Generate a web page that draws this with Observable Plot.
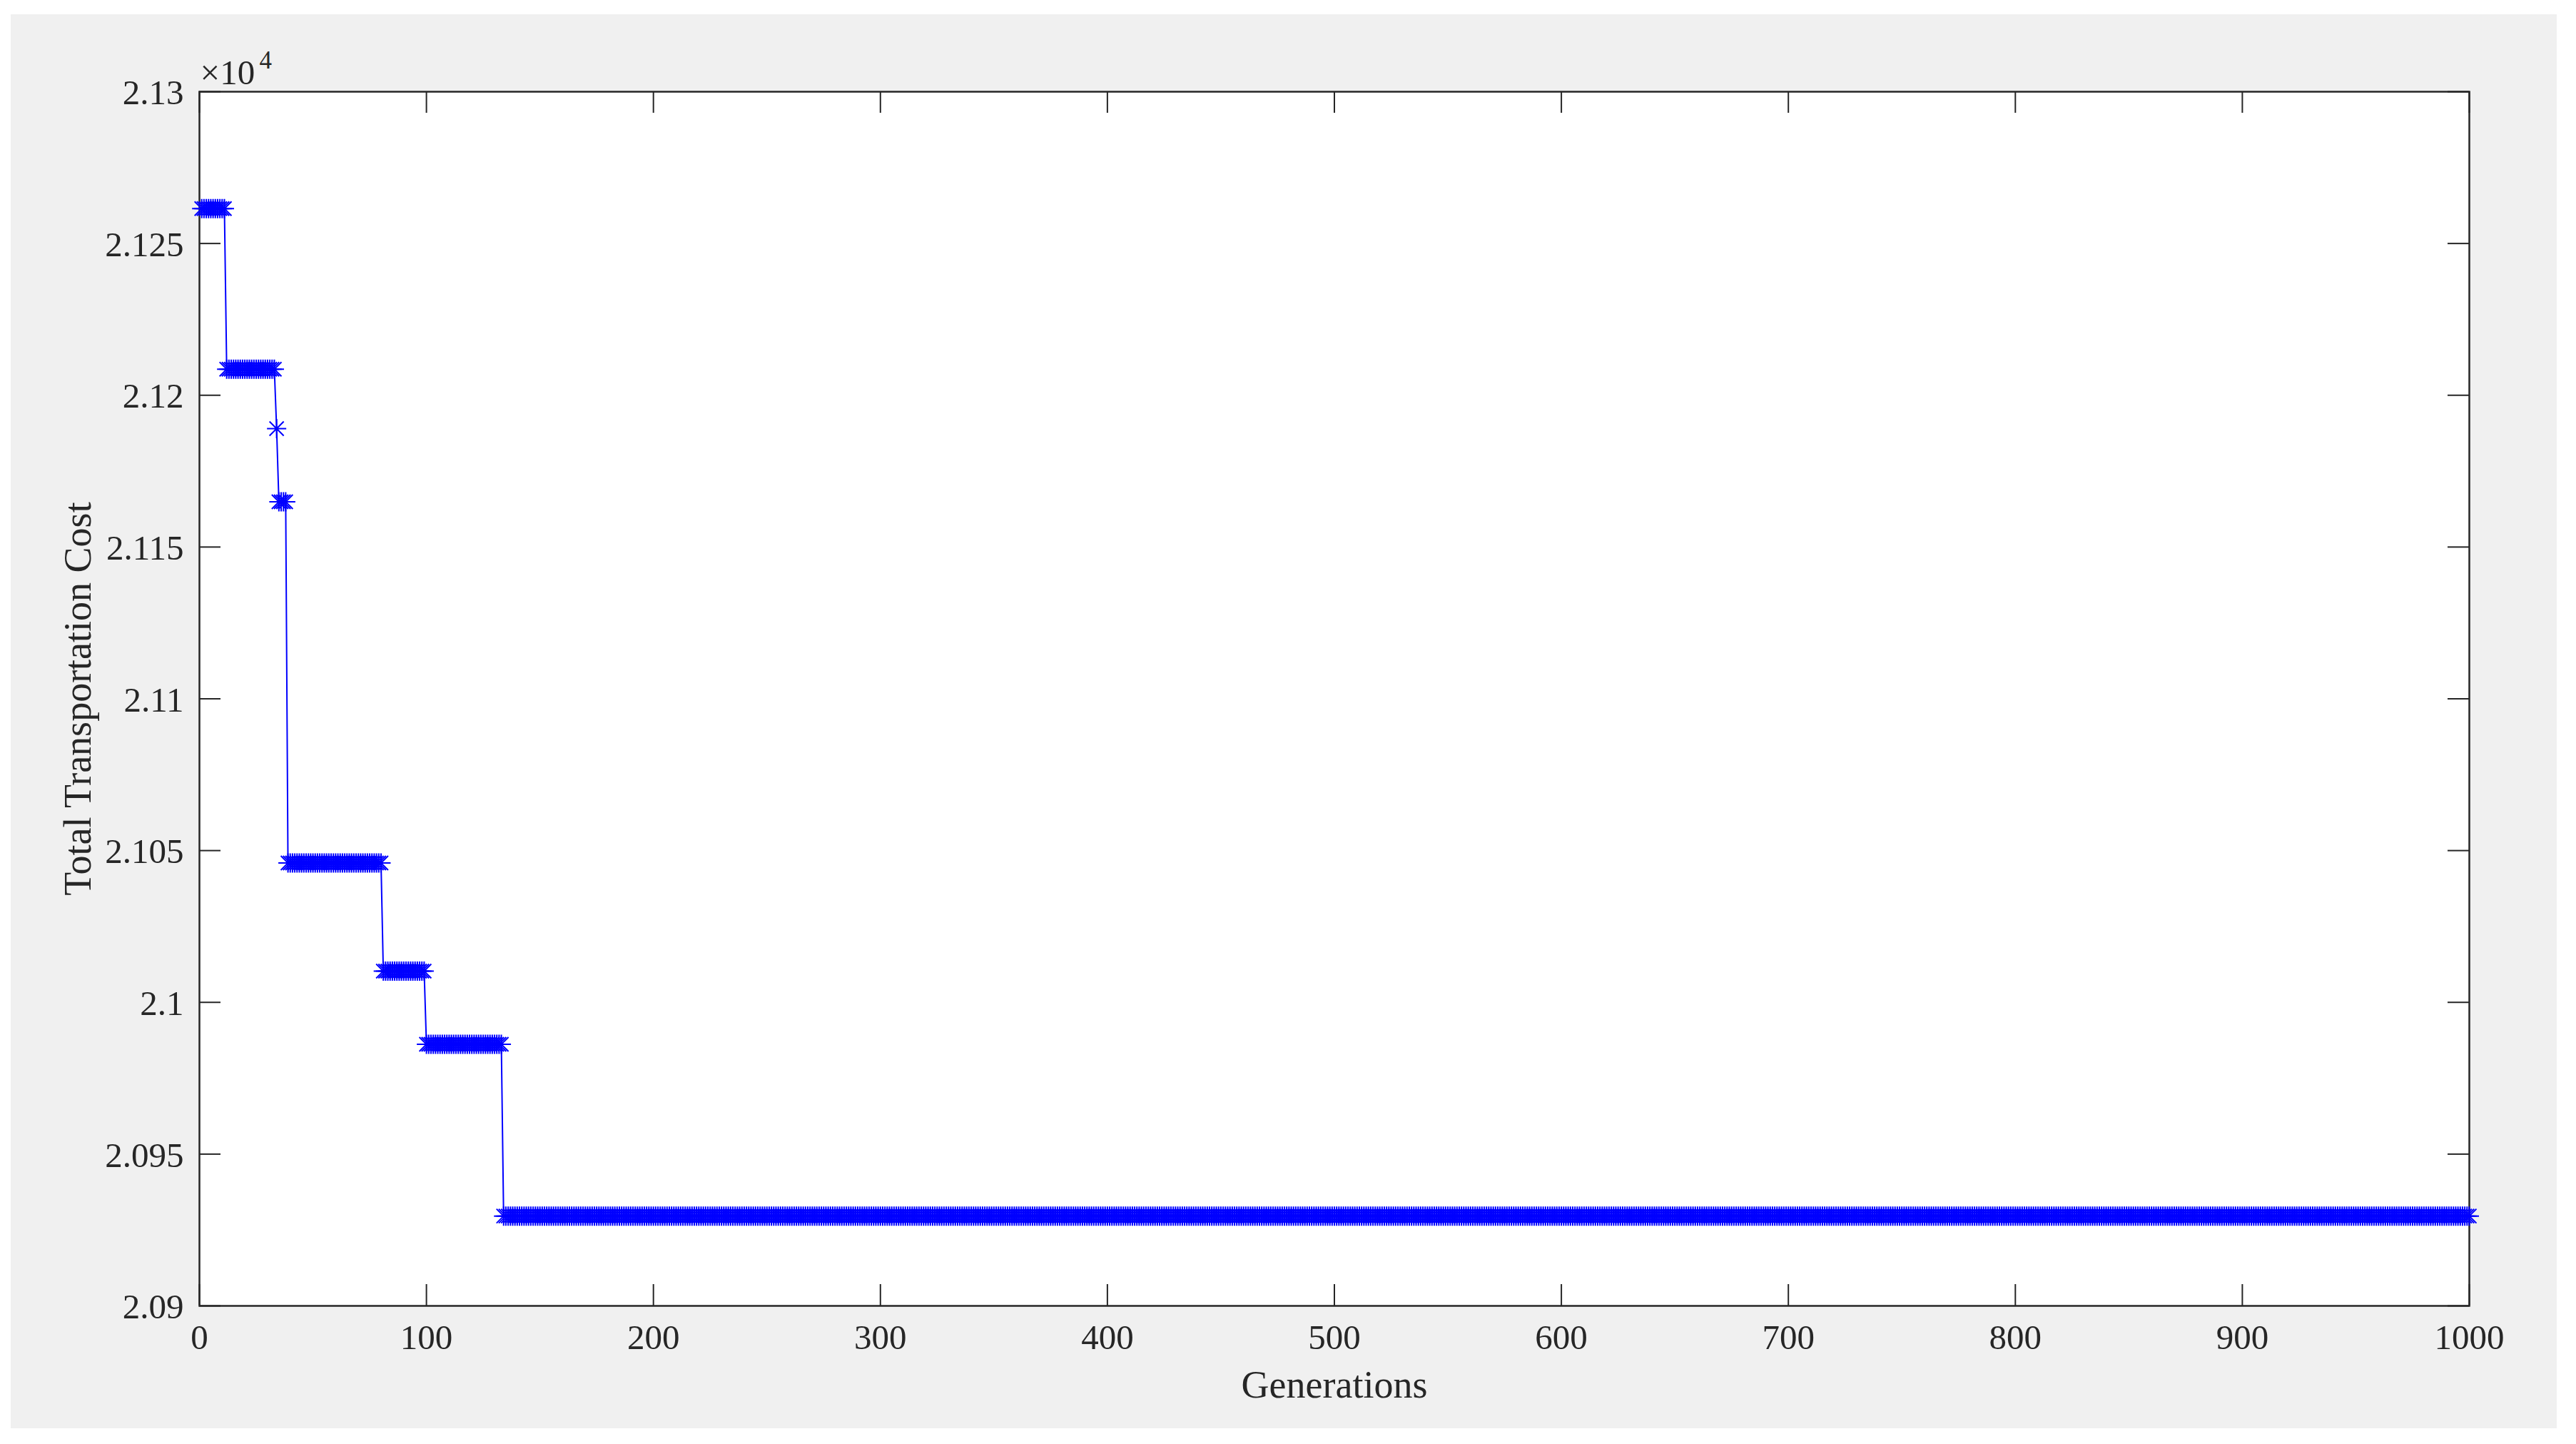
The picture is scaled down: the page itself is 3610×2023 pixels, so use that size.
<!DOCTYPE html>
<html>
<head>
<meta charset="utf-8">
<script src="https://cdn.jsdelivr.net/npm/d3@7"></script>
<script src="https://cdn.jsdelivr.net/npm/@observablehq/plot@0.6"></script>
<style>
  html, body { margin: 0; padding: 0; background: #ffffff; }
  #fig { position: absolute; left: 15px; top: 20px; width: 3568px; height: 1981px; background: #f0f0f0; }
</style>
</head>
<body>
<div id="fig"></div>
<script>
// ---- data (cost plateaus of the GA convergence curve) ----
const stepStartGen = [1, 12, 34, 35, 39, 81, 100, 134];
const stepCost     = [21261.5, 21208.6, 21189.0, 21164.9, 21045.9, 21010.3, 20986.2, 20929.6];
const lastGen = 1000;

const xTicks = [0, 100, 200, 300, 400, 500, 600, 700, 800, 900, 1000];
const yTicks = [20900, 20950, 21000, 21050, 21100, 21150, 21200, 21250, 21300];
const xLabel = "Generations";
const yLabel = "Total Transportation Cost";
const yMultiplier = "×10";
const yExponent = "4";

// one row per generation (each plateau holds the same best cost)
const rows = [];
stepStartGen.forEach((g0, i) => {
  const g1 = i + 1 < stepStartGen.length ? stepStartGen[i + 1] - 1 : lastGen;
  for (let g = g0; g <= g1; g++) rows.push({gen: g, cost: stepCost[i]});
});

// MATLAB-like '*' marker: plus + diagonal cross
const star = {
  draw(context, size) {
    const r = Math.sqrt(size / Math.PI);
    const d = r * 0.74;
    context.moveTo(-r, 0); context.lineTo(r, 0);
    context.moveTo(0, -r); context.lineTo(0, r);
    context.moveTo(-d, -d); context.lineTo(d, d);
    context.moveTo(-d, d); context.lineTo(d, -d);
  }
};

const W = 3568, H = 1981;
const mL = 264, mR = 123, mT = 108, mB = 172;
const plotW = W - mL - mR, plotH = H - mT - mB;
const tickLen = 30;
const ink = "#262626";
const blue = "#0000ff";
const fmtX = d => String(d);
const fmtY = d => String(+(d / 1e4).toFixed(4));

const chart = Plot.plot({
  width: W, height: H,
  marginLeft: mL, marginRight: mR, marginTop: mT, marginBottom: mB,
  style: {background: "transparent", fontFamily: "'Liberation Serif', 'Times New Roman', serif", color: ink, overflow: "visible"},
  x: {domain: [0, 1000], label: null},
  y: {domain: [20900, 21300], label: null},
  marks: [
    Plot.frame({fill: "white", stroke: "none"}),
    // inward ticks on all four sides
    Plot.ruleX(xTicks, {x: d => d, insetTop: plotH - tickLen, stroke: ink, strokeWidth: 2}),
    Plot.ruleX(xTicks, {x: d => d, insetBottom: plotH - tickLen, stroke: ink, strokeWidth: 2}),
    Plot.ruleY(yTicks, {y: d => d, insetRight: plotW - tickLen, stroke: ink, strokeWidth: 2}),
    Plot.ruleY(yTicks, {y: d => d, insetLeft: plotW - tickLen, stroke: ink, strokeWidth: 2}),
    Plot.frame({stroke: ink, strokeWidth: 2.5}),
    Plot.axisX({ticks: xTicks, tickSize: 0, tickPadding: 26, fontSize: 49, label: null, tickFormat: fmtX, fill: ink}),
    Plot.axisY({ticks: yTicks, tickSize: 0, tickPadding: 22, fontSize: 49, label: null, tickFormat: fmtY, fill: ink, dy: 2}),
    Plot.line(rows, {x: "gen", y: "cost", stroke: blue, strokeWidth: 2}),
    Plot.dot(rows, {x: "gen", y: "cost", symbol: star, r: 13.5, stroke: blue, fill: "none", strokeWidth: 2}),
    Plot.text([xLabel], {text: d => d, frameAnchor: "bottom", lineAnchor: "bottom", dy: 128, fontSize: 54, fill: ink}),
    Plot.text([yLabel], {text: d => d, frameAnchor: "left", rotate: -90, textAnchor: "middle", lineAnchor: "bottom", dx: -153, fontSize: 54, fill: ink}),
    Plot.text([yMultiplier], {text: d => d, frameAnchor: "top-left", textAnchor: "start", lineAnchor: "bottom", dx: 1, dy: -11, fontSize: 49, fill: ink}),
    Plot.text([yExponent], {text: d => d, frameAnchor: "top-left", textAnchor: "start", lineAnchor: "bottom", dx: 84, dy: -33, fontSize: 35, fill: ink})
  ]
});
document.getElementById("fig").appendChild(chart);
</script>
</body>
</html>
